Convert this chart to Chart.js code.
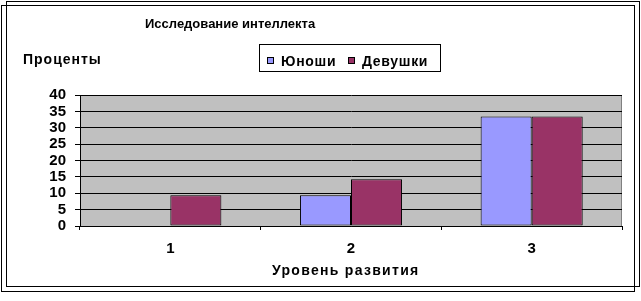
<!DOCTYPE html>
<html><head><meta charset="utf-8">
<script src="https://cdn.jsdelivr.net/npm/chart.js@4.4.1/dist/chart.umd.min.js"></script>
<style>html,body{margin:0;padding:0;background:#fff;}canvas{display:block;}</style>
</head><body>
<canvas id="c" width="641" height="301"></canvas>
<script>
const categories = ['1', '2', '3'];
const seriesNames = ['Юноши', 'Девушки'];
const boys = [0, 9.4, 33.4];
const girls = [9.4, 14.3, 33.4];
const yTicks = [0, 5, 10, 15, 20, 25, 30, 35, 40];
const titleText = 'Исследование интеллекта';
const yTitleText = 'Проценты';
const xTitleText = 'Уровень развития';
const colors = ['#9999FF', '#993366'];

const FONT = '"Liberation Sans", Arial, sans-serif';

const decor = {
  id: 'decor',
  beforeDraw(chart) {
    const ctx = chart.ctx, a = chart.chartArea;
    ctx.save();
    ctx.fillStyle = '#fff';
    ctx.fillRect(0, 0, chart.width, chart.height);
    ctx.fillStyle = '#C0C0C0';
    ctx.fillRect(a.left, a.top, a.right - a.left, a.bottom - a.top);
    ctx.strokeStyle = '#808080';
    ctx.lineWidth = 1;
    ctx.beginPath();
    ctx.moveTo(Math.round(a.right) - 0.5, a.top);
    ctx.lineTo(Math.round(a.right) - 0.5, a.bottom);
    ctx.stroke();
    ctx.restore();
  },
  afterDraw(chart) {
    const ctx = chart.ctx;
    ctx.save();
    ctx.strokeStyle = '#000';
    ctx.lineWidth = 1;
    ctx.strokeRect(6.5, 1.5, 633, 285);
    ctx.strokeRect(1.5, 5.5, 633, 286);
    ctx.fillStyle = '#000';
    ctx.textBaseline = 'alphabetic';
    ctx.textAlign = 'left';
    ctx.font = 'bold 13px ' + FONT;
    ctx.letterSpacing = '0px';
    ctx.fillText(titleText, 145, 28);
    ctx.font = 'bold 14px ' + FONT;
    ctx.letterSpacing = '1px';
    ctx.fillText(yTitleText, 23, 64);
    ctx.letterSpacing = '1.3px';
    ctx.fillText(xTitleText, 272, 275);
    // legend
    ctx.letterSpacing = '0.7px';
    ctx.fillStyle = '#fff';
    ctx.fillRect(259, 44, 181, 27);
    ctx.strokeRect(259.5, 44.5, 181, 27);
    const items = chart.data.datasets;
    const xs = [[267, 281], [348, 362]];
    items.forEach((ds, i) => {
      ctx.fillStyle = ds.backgroundColor;
      ctx.fillRect(xs[i][0], 57, 6, 6);
      ctx.strokeRect(xs[i][0] + 0.5, 57.5, 6, 6);
      ctx.fillStyle = '#000';
      ctx.fillText(ds.label, xs[i][1], 66);
    });
    ctx.restore();
  }
};

new Chart(document.getElementById('c'), {
  type: 'bar',
  data: {
    labels: categories,
    datasets: [
      { label: seriesNames[0], data: boys, backgroundColor: colors[0], borderColor: '#000', borderWidth: 1, borderSkipped: false },
      { label: seriesNames[1], data: girls, backgroundColor: colors[1], borderColor: '#000', borderWidth: 1, borderSkipped: false }
    ]
  },
  options: {
    responsive: false,
    animation: false,
    devicePixelRatio: 1,
    layout: { padding: { left: 0, top: 95, right: 19, bottom: 0 } },
    plugins: { legend: { display: false }, title: { display: false }, tooltip: { enabled: false } },
    datasets: { bar: { barPercentage: 1, categoryPercentage: 0.565 } },
    scales: {
      x: {
        grid: { display: true, drawOnChartArea: false, drawTicks: true, tickLength: 4, color: '#000', offset: true },
        border: { display: true, color: '#000', width: 1 },
        ticks: { color: '#000', font: { family: FONT, size: 15, weight: 'bold' }, padding: 10 },
        afterFit(s) { s.height = 75; }
      },
      y: {
        min: yTicks[0], max: yTicks[yTicks.length - 1],
        afterBuildTicks(s) { s.ticks = yTicks.map(v => ({ value: v })); },
        grid: { color: '#000', lineWidth: 1, drawTicks: true, tickLength: 5, tickColor: '#000' },
        border: { display: true, color: '#000', width: 1 },
        ticks: { color: '#000', autoSkip: false, font: { family: FONT, size: 15, weight: 'bold', lineHeight: 1 }, padding: 9 },
        afterFit(s) { s.width = 80; }
      }
    }
  },
  plugins: [decor]
});
</script>
</body></html>
